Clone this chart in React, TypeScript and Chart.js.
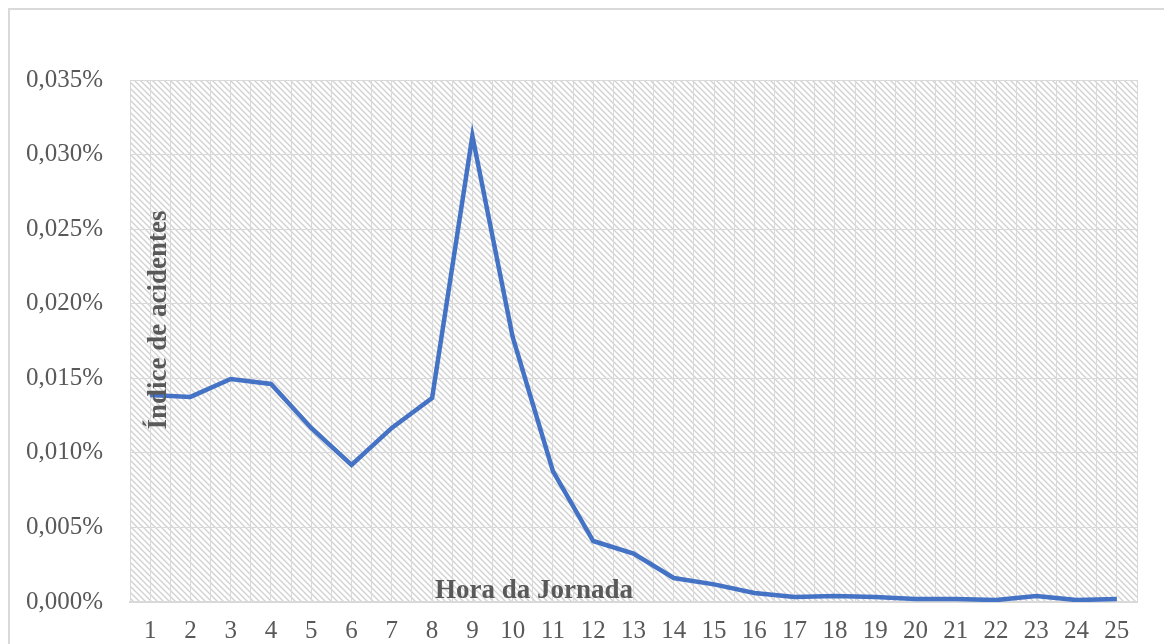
import React, { useEffect, useRef } from "react";
import { Chart, registerables } from "chart.js";

Chart.register(...registerables);

const hours = [1, 2, 3, 4, 5, 6, 7, 8, 9, 10, 11, 12, 13, 14, 15, 16, 17, 18, 19, 20, 21, 22, 23, 24, 25];
const accidentIndex = [
  0.01388, 0.01375, 0.01495, 0.01462, 0.01167, 0.00919, 0.01167, 0.01368, 0.03125, 0.01777,
  0.00878, 0.00409, 0.00325, 0.00161, 0.00118, 0.0006, 0.00034, 0.0004, 0.00034, 0.0002,
  0.0002, 0.00013, 0.0004, 0.00013, 0.0002,
];
const yTicks = [0, 0.005, 0.01, 0.015, 0.02, 0.025, 0.03, 0.035];
const xTitle = "Hora da Jornada";
const yTitle = "Índice de acidentes";

const FONT = "'Liberation Serif', 'Times New Roman', serif";
const TEXT = "#595959";
const GRID = "#d9d9d9";

function makeHatch(): CanvasPattern | string {
  const s = 6;
  const c = document.createElement("canvas");
  c.width = s;
  c.height = s;
  const g = c.getContext("2d");
  if (!g) return "#f2f2f2";
  g.fillStyle = "#ffffff";
  g.fillRect(0, 0, s, s);
  g.strokeStyle = "#d2d2d2";
  g.lineWidth = 1.4;
  g.beginPath();
  g.moveTo(-1, -1);
  g.lineTo(s + 1, s + 1);
  g.moveTo(-1, s - 1);
  g.lineTo(1, s + 1);
  g.moveTo(s - 1, -1);
  g.lineTo(s + 1, 1);
  g.stroke();
  const p = g.createPattern(c, "repeat");
  return p || "#f2f2f2";
}

export default function App() {
  const ref = useRef<HTMLCanvasElement>(null);

  useEffect(() => {
    if (!ref.current) return;
    const hatch = makeHatch();

    const decor = {
      id: "decor",
      beforeDraw(chart: any) {
        const { ctx, chartArea } = chart;
        ctx.save();
        ctx.strokeStyle = GRID;
        ctx.lineWidth = 2;
        ctx.strokeRect(9, 9, 1200, 700);
        ctx.fillStyle = hatch;
        ctx.fillRect(chartArea.left, chartArea.top, chartArea.right - chartArea.left, chartArea.bottom - chartArea.top);
        ctx.restore();
      },
      afterDatasetsDraw(chart: any) {
        const { ctx, chartArea } = chart;
        ctx.save();
        ctx.fillStyle = TEXT;
        ctx.font = `bold 27px ${FONT}`;
        ctx.textAlign = "center";
        ctx.textBaseline = "alphabetic";
        ctx.fillText(xTitle, 534, chartArea.bottom - 4);
        ctx.translate(166, 320);
        ctx.rotate(-Math.PI / 2);
        ctx.fillText(yTitle, 0, 0);
        ctx.restore();
      },
    };

    const chart = new Chart(ref.current, {
      type: "line",
      data: {
        datasets: [
          {
            data: hours.map((h, i) => ({ x: h, y: accidentIndex[i] })),
            borderColor: "#4472C4",
            borderWidth: 4.5,
            pointRadius: 0,
            tension: 0,
            fill: false,
          },
        ],
      },
      options: {
        responsive: false,
        animation: false,
        layout: { padding: { top: 80, right: 27, left: 0, bottom: 0 } },
        plugins: { legend: { display: false }, tooltip: { enabled: false } },
        scales: {
          x: {
            type: "linear",
            min: 0.5,
            max: 25.5,
            afterFit: (s: any) => {
              s.height = 42;
            },
            ticks: {
              stepSize: 0.5,
              autoSkip: false,
              maxRotation: 0,
              padding: 14,
              color: TEXT,
              font: { family: FONT, size: 25 },
              callback: (v: any) => (Number.isInteger(v) ? String(v) : ""),
            },
            grid: { color: GRID, lineWidth: 1, drawTicks: false },
            border: { color: GRID, width: 2 },
          },
          y: {
            min: 0,
            max: 0.035,
            afterFit: (s: any) => {
              s.width = 130;
            },
            afterBuildTicks: (s: any) => {
              s.ticks = yTicks.map((v) => ({ value: v }));
            },
            ticks: {
              padding: 27,
              color: TEXT,
              font: { family: FONT, size: 25 },
              callback: (v: any) => Number(v).toFixed(3).replace(".", ",") + "%",
            },
            grid: { color: GRID, lineWidth: 1, drawTicks: false },
            border: { display: false },
          },
        },
      },
      plugins: [decor],
    });
    return () => chart.destroy();
  }, []);

  return (
    <div style={{ position: "fixed", left: 0, top: 0, width: 1164, height: 644, background: "#fff" }}>
      <canvas ref={ref} width={1164} height={644} style={{ display: "block" }} />
    </div>
  );
}
